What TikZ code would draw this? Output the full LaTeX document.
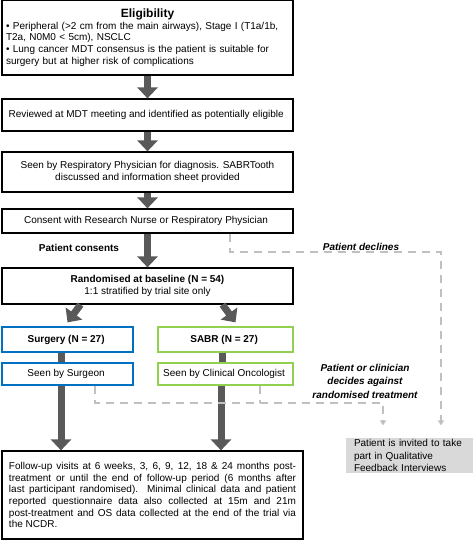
\documentclass[tikz,border=0pt]{standalone}
\usepackage{xcolor}
\usepackage{fontspec}
\setmainfont{Liberation Sans}
\usepackage{tikz}
\usetikzlibrary{arrows.meta, positioning}
\definecolor{arrowgrey}{RGB}{89,89,89}
\definecolor{dashgrey}{RGB}{192,192,192}
\definecolor{surgblue}{RGB}{0,112,192}
\definecolor{sabrgreen}{RGB}{146,208,80}
\definecolor{invitegrey}{RGB}{217,217,217}

\begin{document}
\begin{tikzpicture}[x=1pt, y=-1pt,
    box/.style={draw, line width=1.2pt, rectangle, inner sep=0pt, align=center,
        font=\fontsize{10}{11.7}\selectfont},
    bigarrow/.style={draw=arrowgrey, line width=7pt,
        -{Triangle[width=20pt, length=11pt]}},
    bigline/.style={draw=arrowgrey, line width=7pt},
    dashline/.style={draw=dashgrey, line width=2pt, dash pattern=on 8pt off 6pt,
        -{Triangle[width=6pt, length=5pt]}},
    dashplain/.style={draw=dashgrey, line width=2pt, dash pattern=on 8pt off 6pt},
    note/.style={font=\fontsize{10}{14}\selectfont\bfseries\itshape, align=center}]
    \useasboundingbox (0,0) rectangle (473,540);
    \node[box, minimum width=291pt, minimum height=75pt, text width=283pt, align=left] (elig) at (147.5,37.5) {
        {\centering\fontsize{12}{13}\selectfont\bfseries Eligibility\par}
        • Peripheral (>2 cm from the main airways), Stage I (T1a/1b, \\
        T2a, N0M0 < 5cm), NSCLC \\
        • Lung cancer MDT consensus is the patient is suitable for \\
        surgery but at higher risk of complications
    };
    \node[box, minimum width=291pt, minimum height=32pt] (review) at (147.5,115) {
        Reviewed at MDT meeting and identified as potentially eligible
    };
    \node[box, minimum width=291pt, minimum height=40pt] (resp) at (147.5,172) {
        Seen by Respiratory Physician for diagnosis. SABRTooth \\
        discussed and information sheet provided
    };
    \node[box, minimum width=291pt, minimum height=24pt] (consent) at (147.5,221) {
        Consent with Research Nurse or Respiratory Physician
    };
    \node[box, minimum width=291pt, minimum height=36pt] (rand) at (147.5,286) {
        \textbf{Randomised at baseline (N = 54)} \\
        1:1 stratified by trial site only
    };
    \node[box, draw=surgblue, minimum width=131pt, minimum height=25pt] (surgery) at (67.5,339.5) {
        \textbf{Surgery (N = 27)}
    };
    \node[box, draw=sabrgreen, minimum width=135pt, minimum height=25pt] (sabr) at (225.5,339.5) {
        \textbf{SABR (N = 27)}
    };
    \node[box, draw=surgblue, minimum width=131pt, minimum height=22pt] (surgeon) at (67.5,374) {
        Seen by Surgeon
    };
    \node[box, draw=sabrgreen, minimum width=135pt, minimum height=22pt] (onco) at (225.5,374) {
        Seen by Clinical Oncologist
    };
    \node[box, minimum width=301pt, minimum height=88pt, text width=287pt, align=justify] (follow) at (152.5,495) {
        Follow-up visits at 6 weeks, 3, 6, 9, 12, 18 \& 24 months post-\linebreak
        treatment or until the end of follow-up period (6 months after\linebreak
        last participant randomised). Minimal clinical data and patient\linebreak
        reported questionnaire data also collected at 15m and 21m\linebreak
        post-treatment and OS data collected at the end of the trial via\linebreak
        the NCDR.
    };
    \node[box, draw=none, fill=invitegrey, minimum width=127pt, minimum height=35pt, text width=111pt, align=left,
        font=\fontsize{10}{12.2}\selectfont] (invite) at (409.5,455.5) {
        Patient is invited to take \\
        part in Qualitative \\
        Feedback Interviews
    };

    % main flow
    \draw[bigarrow] (elig) -- (review);
    \draw[bigarrow] (review) -- (resp);
    \draw[bigarrow] (resp) -- (consent);
    \draw[bigarrow] (consent) -- (rand);
    \node[note, font=\fontsize{10}{12}\selectfont\bfseries] (consents) at (79,248) {Patient consents};
    \draw[bigarrow] ([xshift=-67pt]rand.south) -- ([xshift=0pt,yshift=4pt]surgery.north);
    \draw[bigarrow] ([xshift=75pt]rand.south) -- ([xshift=10pt,yshift=4pt]sabr.north);
    \draw[bigline] ([xshift=-6.5pt]surgery.south) -- ([xshift=-6.5pt]surgeon.north);
    \draw[bigline] ([xshift=-3.5pt]sabr.south) -- ([xshift=-3.5pt]onco.north);
    \draw[bigarrow] ([xshift=-6.5pt]surgeon.south) -- ([xshift=-6.5pt]surgeon.south |- follow.north);
    \draw[bigarrow] ([xshift=-4.5pt]onco.south) -- ([xshift=-4.5pt]onco.south |- follow.north);

    % drop-outs
    \coordinate (declinecorner) at (441,252);
    \draw[dashline, shorten >=12pt] ([xshift=82.5pt]consent.south) |- (declinecorner) -- (declinecorner |- invite.north);
    \node[note] (declines) at (361,247) {Patient declines};
    \coordinate (againstcorner) at (383,403);
    \draw[dashline, shorten >=12pt] ([xshift=27.5pt]surgeon.south) |- (againstcorner) -- (againstcorner |- invite.north);
    \draw[dashplain] ([xshift=34.5pt]onco.south) -- ([xshift=34.5pt]onco.south |- againstcorner);
    \node[note, font=\fontsize{10}{13.5}\selectfont\bfseries\itshape] (against) at (365,381) {Patient or clinician \\ decides against \\ randomised treatment};
\end{tikzpicture}
\end{document}
